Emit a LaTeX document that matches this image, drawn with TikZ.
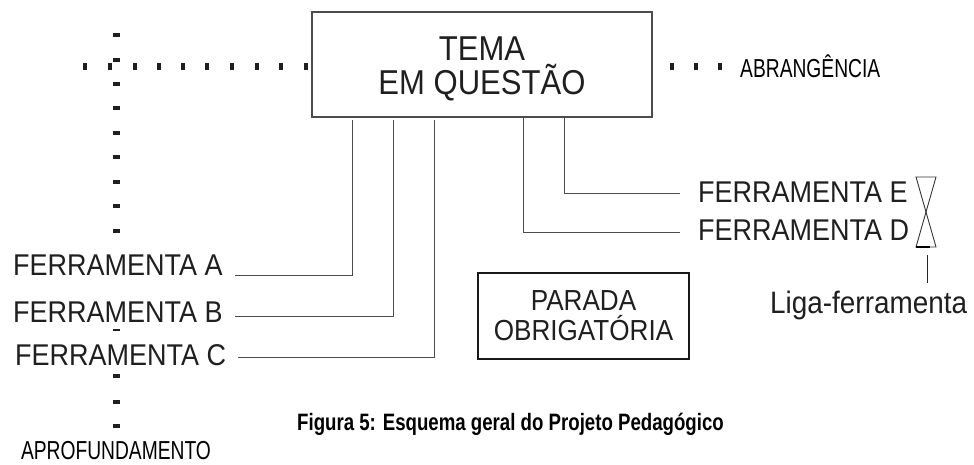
\documentclass[tikz,border=0pt]{standalone}
\usepackage{fontspec}
\setmainfont[FakeStretch=0.9]{Liberation Sans}
\newfontfamily\condfont[FakeStretch=0.74]{Liberation Sans}
\newfontfamily\capfont[FakeStretch=0.787]{Liberation Sans}
\begin{document}
\begin{tikzpicture}[x=1pt,y=-1pt,
  conn/.style={draw=black!70, line width=1pt},
  ferr/.style={inner sep=0pt, text=black!88, font=\fontsize{30}{34}\selectfont},
  small/.style={inner sep=0pt, text=black, font=\condfont\fontsize{26}{30}\selectfont},
  dotc/.style={fill=black!88},
  mainbox/.style={draw=black!70, line width=1.3pt, minimum width=340pt, minimum height=105pt, inner sep=0pt},
  stopbox/.style={draw=black!90, line width=2pt, minimum width=211pt, minimum height=86pt, align=center, inner sep=0pt, text=black!88, font=\fontsize{29}{30}\selectfont},
  glass/.style={draw=black!80, line width=0.9pt}
]
\useasboundingbox (0,0) rectangle (974,464);

% dotted axes
\foreach \x in {85,110,135,159,183,207,232,257,281,306,672,696,720}
  \fill[dotc] (\x-2,63.2) rectangle ++(4,7);
\foreach \y in {35,60,84,108,133,157,182,206,231,375.5,401.5,425.7}
  \fill[dotc] (113,\y-2) rectangle ++(7,4);
\fill[dotc] (113,329.3) rectangle ++(7,1.4);

% main box
\node[mainbox] (tema) at (482,64.5) {};
\node[inner sep=0pt, align=center, text=black!88, font=\fontsize{34.5}{34}\selectfont]
  (temaTxt) at ([yshift=-4.3pt]tema.center) {TEMA\\EM QUESTÃO};

% axis labels
\node[small, anchor=base west] (abr) at (740,77) {ABRANGÊNCIA};
\node[small, anchor=base] (apr) at (116,459.5) {APROFUNDAMENTO};

% tools
\node[ferr, anchor=base west] (fa) at (13,275) {FERRAMENTA A};
\node[ferr, anchor=base west] (fb) at (13,322) {FERRAMENTA B};
\node[ferr, anchor=base west] (fc) at (15,365) {FERRAMENTA C};
\node[ferr, anchor=base west] (fe) at (698,202) {FERRAMENTA E};
\node[ferr, anchor=base west] (fd) at (698,240) {FERRAMENTA D};

\coordinate (xA) at (352,120);
\coordinate (xB) at (393,120);
\coordinate (xC) at (434,120);
\coordinate (xD) at (523,117);
\coordinate (xE) at (564,117);

\draw[conn] ([xshift=12pt]fa.base east) -- (fa.base east -| xA) -- (xA);
\draw[conn] ([xshift=12pt,yshift=6pt]fb.base east) -- ([yshift=6pt]fb.base east -| xB) -- (xB);
\draw[conn] ([xshift=12pt,yshift=8pt]fc.base east) -- ([yshift=8pt]fc.base east -| xC) -- (xC);
\draw[conn] ([xshift=-18pt,yshift=9pt]fe.base west) -- ([yshift=9pt]fe.base west -| xE) -- (xE);
\draw[conn] ([xshift=-18pt,yshift=8pt]fd.base west) -- ([yshift=8pt]fd.base west -| xD) -- (xD);

% mandatory stop
\node[stopbox] (parada) at (583.5,316) {PARADA\\OBRIGATÓRIA};

% tool link (hourglass)
\coordinate (hgT) at (926,212);
\draw[glass] (916,177) -- (936,177) -- (hgT) -- cycle;
\draw[glass] (hgT) -- (916,247) -- (936,247) -- cycle;
\draw[line width=2.2pt, black] (916,247) -- (930,247);
\coordinate (hg) at (927,255);
\node[ferr, anchor=base west, font=\fontsize{31}{34}\selectfont] (liga) at (770,313) {Liga-ferramenta};
\draw[conn, black!85] (hg) -- ([yshift=7pt]liga.north -| hg);

% caption
\node[inner sep=0pt, anchor=base, text=black, font=\capfont\bfseries\fontsize{23.7}{28}\selectfont]
  (cap) at (510.5,430) {Figura 5: Esquema geral do Projeto Pedagógico};
\end{tikzpicture}
\end{document}
